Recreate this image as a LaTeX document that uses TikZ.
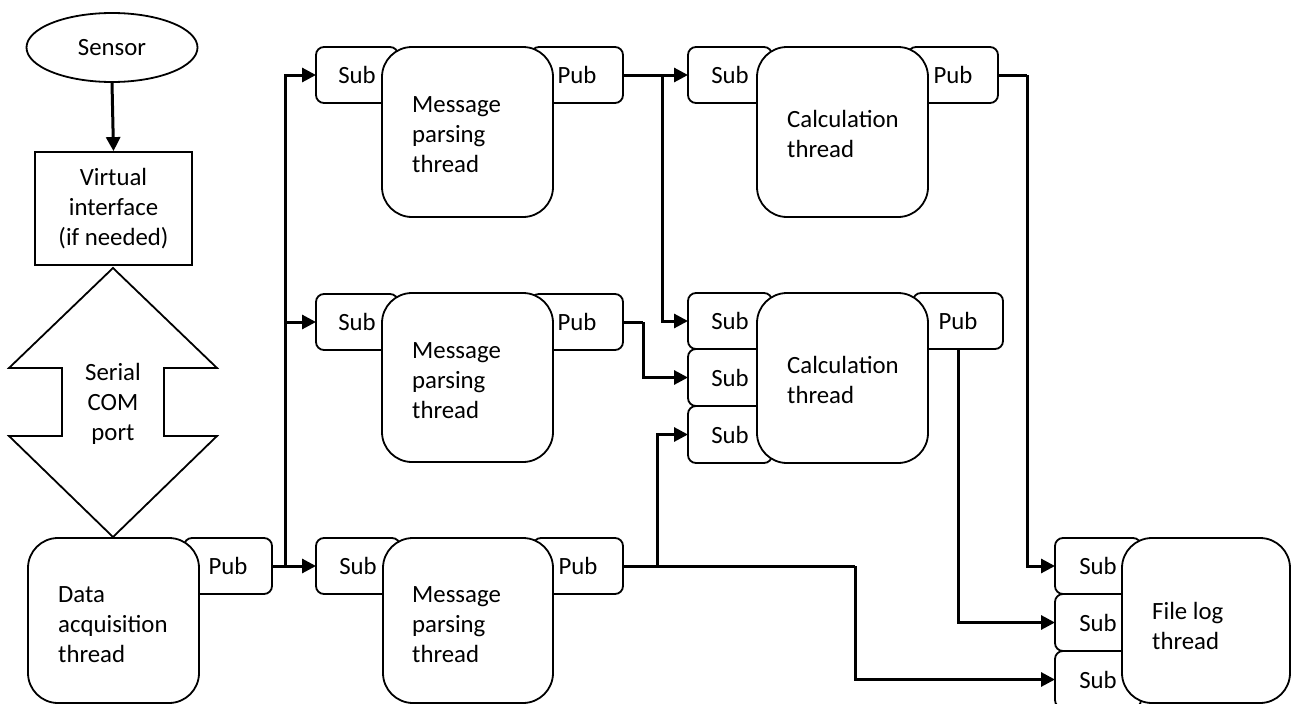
\documentclass[tikz,border=0pt]{standalone}
\usepackage{fontspec}
\setmainfont{Carlito}
\usetikzlibrary{arrows.meta,shapes.geometric,calc}
\newcommand{\lbl}{\fontsize{24.8}{30}\selectfont}

\begin{document}
\begin{tikzpicture}[x=1pt,y=-1pt,
  port/.style={draw, line width=1.8pt, rounded corners=8pt, fill=white,
    inner sep=0pt, outer sep=0pt, font=\lbl},
  thread/.style={draw, line width=1.8pt, rounded corners=30pt, fill=white,
    inner sep=0pt, outer sep=0pt},
  txt/.style={align=left, inner sep=0pt, font=\lbl, anchor=west},
  wire/.style={line width=3pt},
  conn/.style={line width=3pt, -{Triangle[length=14pt,width=14pt]}}
]
\clip (0,0) rectangle (1291,704);
\fill[white] (0,0) rectangle (1291,704);

% ---- sensor side ----
\node[draw, ellipse, line width=1.8pt, minimum width=171pt, minimum height=69pt,
      inner sep=0pt, font=\lbl] (sensor) at (112,47.5) {\raisebox{-3pt}{Sensor}};
\node[draw, line width=1.8pt, minimum width=157pt, minimum height=113pt,
      inner sep=0pt, align=center, font=\lbl] (vi) at (113.5,208.5)
      {Virtual\\interface\\(if needed)};
\draw[line width=1.8pt, line join=miter]
  (113,268) -- (217,368) -- (164,368) -- (164,436) -- (217,436) -- (113,537)
  -- (9,436) -- (62,436) -- (62,368) -- (9,368) -- cycle;
\node[align=center, inner sep=0pt, font=\lbl] (serial) at (113,404) {Serial\\COM\\port};

% ---- publish / subscribe ports ----
\node[port, minimum width=88pt, minimum height=56pt] (dapub) at (228,566) {Pub};

\node[port, minimum width=82pt, minimum height=56pt] (mp1sub) at (357,75) {Sub};
\node[port, minimum width=92pt, minimum height=56pt] (mp1pub) at (577,75) {Pub};
\node[port, minimum width=82pt, minimum height=56pt] (mp2sub) at (357,322) {Sub};
\node[port, minimum width=92pt, minimum height=56pt] (mp2pub) at (577,322) {Pub};
\node[port, minimum width=84pt, minimum height=56pt] (mp3sub) at (358,566) {Sub};
\node[port, minimum width=90pt, minimum height=56pt] (mp3pub) at (578,566) {Pub};

\node[port, minimum width=84pt, minimum height=56pt] (c1sub) at (730,75) {Sub};
\node[port, minimum width=90pt, minimum height=56pt] (c1pub) at (953,75) {Pub};
\node[port, minimum width=84pt, minimum height=56pt] (c2sub1) at (730,321) {Sub};
\node[port, minimum width=84pt, minimum height=57pt] (c2sub2) at (730,377.5) {Sub};
\node[port, minimum width=84pt, minimum height=57pt] (c2sub3) at (730,434.5) {Sub};
\node[port, minimum width=90pt, minimum height=56pt] (c2pub) at (958,321) {Pub};

\node[port, minimum width=86pt, minimum height=56pt] (flsub1) at (1098,566) {Sub};
\node[port, minimum width=86pt, minimum height=57pt] (flsub2) at (1098,622.5) {Sub};
\node[port, minimum width=86pt, minimum height=57pt] (flsub3) at (1098,679.5) {Sub};

% ---- thread bodies ----
\node[thread, minimum width=171pt, minimum height=165pt] (da) at (113.5,620.5) {};
\node[thread, minimum width=171pt, minimum height=170pt] (mp1) at (467.5,132) {};
\node[thread, minimum width=171pt, minimum height=169pt] (mp2) at (467.5,377.5) {};
\node[thread, minimum width=170pt, minimum height=165pt] (mp3) at (468,620.5) {};
\node[thread, minimum width=171pt, minimum height=170pt] (c1) at (842.5,132) {};
\node[thread, minimum width=171pt, minimum height=170pt] (c2) at (842.5,378) {};
\node[thread, minimum width=168pt, minimum height=165pt] (fl) at (1206,620.5) {};

\node[txt] (dat) at (58,625) {Data\\acquisition\\thread};
\node[txt] (mp1t) at (412,135) {Message\\parsing\\thread};
\node[txt] (mp2t) at (412,381) {Message\\parsing\\thread};
\node[txt] (mp3t) at (412,625) {Message\\parsing\\thread};
\node[txt] (c1t) at (787,134) {Calculation\\thread};
\node[txt] (c2t) at (787,380) {Calculation\\thread};
\node[txt] (flt) at (1152,626) {File log\\thread};

% ---- connectors ----
\draw[conn] (sensor.south) -- (vi.north);

\coordinate (bus) at (285,566);
\draw[conn] (dapub.east) -- (mp3sub.west);
\draw[conn] (bus) |- (mp1sub.west);
\draw[conn] (bus) |- (mp2sub.west);

\coordinate (b1) at (662,75);
\draw[conn] (mp1pub.east) -- (c1sub.west);
\draw[conn] (b1) |- (c2sub1.west);

\coordinate (b2) at (643,322);
\draw[wire] (mp2pub.east) -- (b2);
\draw[conn] (b2) |- (c2sub2.west);

\coordinate (b3) at (657,566);
\coordinate (b4) at (855,566);
\draw[wire] (mp3pub.east) -- (b4);
\draw[conn] (b3) |- (c2sub3.west);
\draw[conn] (b4) |- (flsub3.west);

\coordinate (r1) at (1027,75);
\draw[wire] (c1pub.east) -- (r1);
\draw[conn] (r1) |- (flsub1.west);

\draw[conn] (c2pub.south) |- (flsub2.west);
\end{tikzpicture}
\end{document}
